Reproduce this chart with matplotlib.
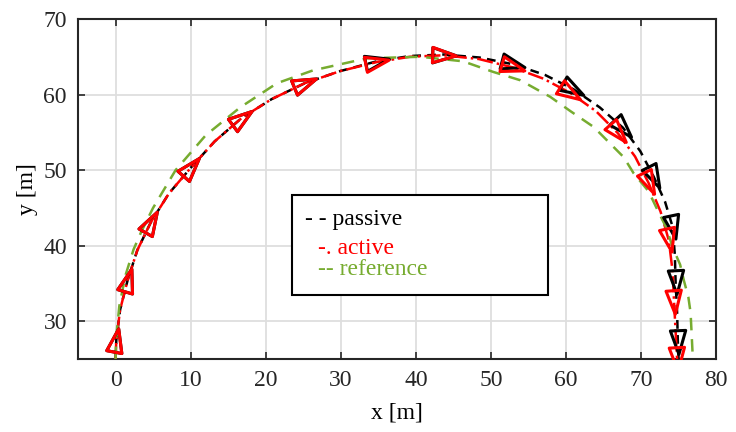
import numpy as np
import matplotlib
matplotlib.use('Agg')
import matplotlib.pyplot as plt
from matplotlib.markers import MarkerStyle
from matplotlib.path import Path
from matplotlib.transforms import Affine2D
from matplotlib.patches import Rectangle

plt.rcParams['font.family'] = 'Liberation Serif'
plt.rcParams['font.size'] = 17

# reference path (green)
ref_x = [0.0, 0.1, 0.5, 1.3, 2.4, 3.5, 5.0, 8.0, 12.0, 16.6, 21.5, 26.3, 33.5, 40.6,
         46.3, 50.3, 53.9, 57.9, 60.6, 63.7, 65.6, 67.7, 69.0, 71.0, 72.2, 73.4,
         74.2, 75.2, 75.7, 76.3, 76.6, 76.9]
ref_y = [25.0, 28.0, 32.0, 36.0, 39.5, 42.0, 45.0, 50.0, 54.6, 58.3, 61.5, 63.2, 64.8, 65.0,
         64.4, 63.0, 61.9, 59.7, 57.8, 55.7, 53.8, 51.7, 49.6, 47.2, 44.7, 42.3,
         39.8, 37.5, 35.4, 33.2, 31.1, 25.0]

# active path (red)
act_x = [0.0, 0.1, 0.6, 1.6, 2.9, 4.7, 7.1, 10.1, 13.2, 16.8, 20.8, 25.2, 29.9, 34.8,
         39.2, 43.7, 48.4, 52.9, 57.0, 60.6, 64.0, 66.9, 69.2, 71.0, 72.6, 73.7,
         74.2, 74.4, 74.6, 74.8]
act_y = [25.0, 27.5, 31.5, 35.4, 39.4, 43.1, 46.9, 50.4, 53.8, 56.9, 59.4, 61.5, 63.1, 64.3,
         65.0, 65.2, 64.7, 63.6, 62.1, 60.2, 57.8, 54.9, 51.8, 48.3, 44.5, 40.7,
         36.6, 32.5, 28.7, 25.0]
act_mx = [0.1, 1.6, 4.7, 10.1, 16.8, 25.2, 34.8, 43.7, 52.9, 60.6, 66.9, 71.0, 73.7, 74.4, 74.8]
act_my = [27.5, 35.4, 43.1, 50.4, 56.9, 61.5, 64.3, 65.2, 63.6, 60.2, 54.9, 48.3, 40.7, 32.5, 25.0]

# passive path (black)
pas_x = [0.0, 0.1, 0.6, 1.6, 2.9, 4.7, 7.1, 10.1, 13.2, 16.8, 20.8, 25.2, 29.9, 34.8,
         39.2, 43.7, 48.5, 53.0, 57.2, 61.0, 64.5, 67.6, 69.9, 71.7, 73.2, 74.2,
         74.5, 74.6, 74.8, 74.9, 75.0]
pas_y = [25.0, 27.5, 31.5, 35.4, 39.4, 43.1, 46.9, 50.4, 53.8, 56.9, 59.4, 61.5, 63.1, 64.4,
         65.1, 65.3, 64.9, 64.0, 62.6, 60.7, 58.3, 55.6, 52.5, 49.1, 45.8, 42.5,
         38.8, 35.2, 31.2, 27.3, 25.0]
pas_mx = [0.1, 1.6, 4.7, 10.1, 16.8, 25.2, 34.8, 43.7, 53.0, 61.0, 67.6, 71.7, 74.2, 74.6, 74.9]
pas_my = [27.5, 35.4, 43.1, 50.4, 56.9, 61.5, 64.4, 65.3, 64.0, 60.7, 55.6, 49.1, 42.5, 35.2, 27.3]

tri = Path([(1, 0), (-1, 0.65), (-1, -0.65), (1, 0)],
           [Path.MOVETO, Path.LINETO, Path.LINETO, Path.CLOSEPOLY])


def arrows(ax, mx, my, color):
    mx = np.array(mx)
    my = np.array(my)
    ang = np.arctan2(np.gradient(my), np.gradient(mx))
    for xi, yi, a in zip(mx, my, ang):
        m = MarkerStyle(tri, transform=Affine2D().rotate(a))
        ax.plot(xi, yi, marker=m, ms=17, mfc='none', mec=color, mew=2.2,
                linestyle='none', zorder=4)


fig = plt.figure(figsize=(7.36, 4.32), dpi=100)
ax = fig.add_axes([0.106, 0.169, 0.867, 0.787])

ax.plot(pas_x, pas_y, '--', color='black', lw=1.8, dashes=(3.5, 2.5), zorder=3)
arrows(ax, pas_mx, pas_my, 'black')
ax.plot(act_x, act_y, '-.', color='red', lw=1.8, zorder=3)
arrows(ax, act_mx, act_my, 'red')
ax.plot(ref_x, ref_y, '--', color='#77ac30', lw=1.8, dashes=(5, 3.5), zorder=3)

ax.set_xlim(-5, 80)
ax.set_ylim(25, 70)
ax.set_xticks(np.arange(0, 81, 10))
ax.set_yticks(np.arange(30, 71, 10))
ax.grid(True, color='#dedede', lw=1.3)
ax.set_axisbelow(True)
ax.tick_params(direction='in', top=True, right=True, length=5, width=1.2,
               colors='#262626', pad=8)
for s in ax.spines.values():
    s.set_linewidth(1.5)
    s.set_color('#262626')
ax.set_xlabel('x [m]', labelpad=8)
ax.set_ylabel('y [m]', labelpad=4)

# text legend box
ax.add_patch(Rectangle((0.335, 0.188), 0.402, 0.294, transform=ax.transAxes,
                       fill=True, facecolor='white', edgecolor='black', lw=1.5, zorder=5))
ax.text(0.356, 0.409, '- - passive', color='black', transform=ax.transAxes,
        va='center', ha='left', zorder=6)
ax.text(0.376, 0.326, '-. active', color='red', transform=ax.transAxes,
        va='center', ha='left', zorder=6)
ax.text(0.376, 0.262, '-- reference', color='#77ac30', transform=ax.transAxes,
        va='center', ha='left', zorder=6)

fig.savefig('out.png', dpi=100)
